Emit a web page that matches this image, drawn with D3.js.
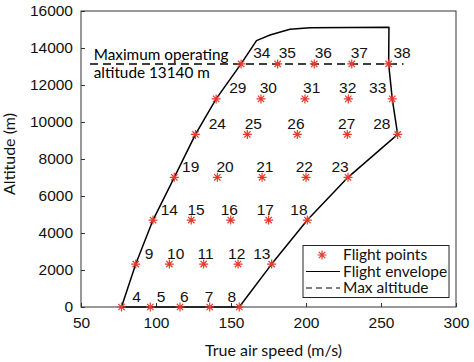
<!DOCTYPE html>
<html>
<head>
<meta charset="utf-8">
<script src="https://cdn.jsdelivr.net/npm/d3@7"></script>
<style>
  body { margin: 0; background: #fff; }
  .tick text { font-family: "Liberation Sans", Arial, sans-serif; }
</style>
</head>
<body>
<svg id="chart" width="474" height="362"></svg>
<script>
// altitude of each row of flight points (m)
const rowAlt = [0, 2320, 4700, 7010, 9330, 11250, 13140];
// true air speed of the points in each row (m/s)
const rowSpeed = [
  [77, 96.2, 116, 135.8, 155.5],
  [86.5, 108.9, 131.8, 154.7, 177.1],
  [98, 123.5, 149.8, 175.1, 200.9],
  [112.2, 140.9, 170.7, 200, 228],
  [126.3, 160.9, 194.2, 227.5, 261.1],
  [140.1, 170, 199.3, 228.2, 257.5],
  [156.7, 181.1, 205.5, 230.5, 255.1]
];
// where the number of each point sits along the speed axis
const labelSpeed = [
  [87.1, 103.3, 118.9, 135.3, 150.5],
  [95.3, 113.1, 133.1, 153.8, 170.5],
  [108.9, 126.7, 148.9, 172.9, 195.3],
  [123.1, 146, 172.5, 198.9, 222.7],
  [140.9, 164.9, 193.3, 227.1, 250.5],
  [154.5, 174.9, 203.8, 227.8, 247.8],
  [170.5, 187.5, 211.5, 235.5, 264]
];
const firstPointNo = 4;

// flight envelope outline
const envSpeed = [77, 86.5, 98, 112.2, 126.3, 140.1, 156.7, 167, 176, 189.3, 202.7, 255.3, 255.1, 257.5, 261.1, 228, 200.9, 177.1, 155.5, 77];
const envAlt   = [0, 2320, 4700, 7010, 9330, 11250, 13140, 14400, 14700, 15010, 15095, 15115, 13140, 11250, 9330, 7010, 4700, 2320, 0, 0];

const maxAlt = 13140;
const maxAltSpeed = [56, 265];

const xTicks = [50, 100, 150, 200, 250, 300];
const yTicks = [0, 2000, 4000, 6000, 8000, 10000, 12000, 14000, 16000];

const red = "#e5392e";
const textFont = "Lato, 'Open Sans', sans-serif";
const numFont = "'Liberation Sans', Arial, sans-serif";

const margin = { top: 11, right: 18, bottom: 55, left: 81 };
const width = 474 - margin.left - margin.right,
      height = 362 - margin.top - margin.bottom;

const svg = d3.select("#chart");
const g = svg.append("g").attr("transform", `translate(${margin.left},${margin.top})`);

const x = d3.scaleLinear().domain([50, 300]).range([0, width]);
const y = d3.scaleLinear().domain([0, 16000]).range([height, 0]);

// axes, MATLAB style ticks pointing inward
const xAxis = g.append("g").attr("transform", `translate(0,${height})`)
  .call(d3.axisBottom(x).tickValues(xTicks).tickSizeInner(-4).tickSizeOuter(0).tickPadding(10));
const yAxis = g.append("g")
  .call(d3.axisLeft(y).tickValues(yTicks).tickSizeInner(-4).tickSizeOuter(0).tickPadding(8).tickFormat(d3.format("d")));
[xAxis, yAxis].forEach(a => {
  a.select(".domain").remove();
  a.selectAll(".tick line").attr("stroke", "#333");
  a.selectAll(".tick text").attr("font-size", "15.5px").attr("fill", "#111");
});

// box around plot
g.append("rect")
  .attr("width", width).attr("height", height)
  .attr("fill", "none").attr("stroke", "#333").attr("stroke-width", 1);

// flight envelope
const line = d3.line().x(d => x(d[0])).y(d => y(d[1]));
g.append("path")
  .datum(envSpeed.map((s, i) => [s, envAlt[i]]))
  .attr("d", line)
  .attr("fill", "none").attr("stroke", "#000").attr("stroke-width", 1.5)
  .attr("stroke-linejoin", "round");

// max altitude
g.append("line")
  .attr("x1", x(maxAltSpeed[0])).attr("x2", x(maxAltSpeed[1]))
  .attr("y1", y(maxAlt)).attr("y2", y(maxAlt))
  .attr("stroke", "#000").attr("stroke-width", 1.5).attr("stroke-dasharray", "8,5");

g.append("text")
  .attr("x", x(58.5)).attr("y", y(maxAlt) - 4)
  .attr("font-family", textFont).attr("font-size", "15.3px")
  .text("Maximum operating");
g.append("text")
  .attr("x", x(58.5)).attr("y", y(maxAlt) + 14)
  .attr("font-family", textFont).attr("font-size", "15.3px")
  .text("altitude 13140 m");

// asterisk marker
function star(cx, cy, r) {
  const d = r * 0.7071;
  return `M${cx - r},${cy}L${cx + r},${cy}M${cx},${cy - r}L${cx},${cy + r}` +
         `M${cx - d},${cy - d}L${cx + d},${cy + d}M${cx - d},${cy + d}L${cx + d},${cy - d}`;
}

const points = [];
rowSpeed.forEach((row, r) => row.forEach((s, c) => {
  points.push({ s, a: rowAlt[r], ls: labelSpeed[r][c], no: firstPointNo + points.length });
}));

g.selectAll(".pt").data(points).enter().append("path")
  .attr("class", "pt")
  .attr("d", d => star(x(d.s), y(d.a), 4.5))
  .attr("stroke", red).attr("stroke-width", 1.2).attr("fill", "none");

g.selectAll(".lbl").data(points).enter().append("text")
  .attr("class", "lbl")
  .attr("x", d => x(d.ls)).attr("y", d => y(d.a) - 5.5)
  .attr("text-anchor", "middle")
  .attr("font-family", numFont).attr("font-size", "15.5px").attr("fill", "#111")
  .text(d => d.no);

// legend
const lg = svg.append("g").attr("transform", "translate(303,245.5)");
lg.append("rect").attr("width", 146).attr("height", 52)
  .attr("fill", "#fff").attr("stroke", "#222").attr("stroke-width", 1);
const items = ["Flight points", "Flight envelope", "Max altitude"];
items.forEach((t, i) => {
  const yy = 9.5 + i * 16.5;
  if (i === 0) {
    lg.append("path").attr("d", star(19, yy, 4.5))
      .attr("stroke", red).attr("stroke-width", 1.2).attr("fill", "none");
  } else {
    lg.append("line").attr("x1", 3).attr("x2", 37).attr("y1", yy).attr("y2", yy)
      .attr("stroke", "#000").attr("stroke-width", 1.2)
      .attr("stroke-dasharray", i === 2 ? "6,4" : null);
  }
  lg.append("text").attr("x", 40).attr("y", yy + 5)
    .attr("font-family", textFont).attr("font-size", "15.5px").attr("fill", "#111")
    .text(t);
});

// axis titles
svg.append("text")
  .attr("x", margin.left + width / 2 + 5).attr("y", 356)
  .attr("text-anchor", "middle")
  .attr("font-family", textFont).attr("font-size", "16px").attr("fill", "#111")
  .text("True air speed (m/s)");
svg.append("text")
  .attr("transform", "rotate(-90)")
  .attr("x", -154).attr("y", 15)
  .attr("text-anchor", "middle")
  .attr("font-family", textFont).attr("font-size", "16px").attr("fill", "#111")
  .text("Altitude (m)");
</script>
</body>
</html>
